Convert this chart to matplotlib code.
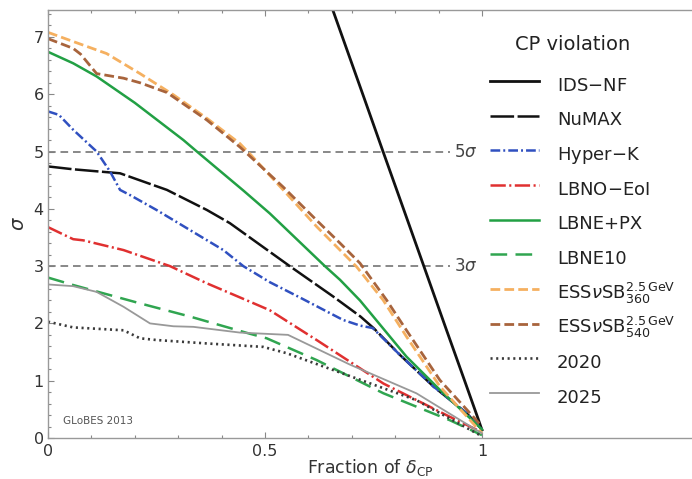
import matplotlib
matplotlib.use('Agg')
import matplotlib.pyplot as plt
from matplotlib.ticker import FixedLocator, MultipleLocator

plt.rcParams['font.family'] = 'DejaVu Sans'
plt.rcParams['mathtext.fontset'] = 'dejavusans'
# dash lengths are given in points, not in units of line width
plt.rcParams['lines.scale_dashes'] = False

# Fraction of delta_CP (x) and CP violation significance sigma (y)
ids_x = [0.645, 0.73, 0.772, 0.82, 0.866, 0.918, 0.96, 0.99, 1.0]
ids_y = [7.71, 5.9, 5.0, 3.98, 3.0, 1.89, 1.0, 0.36, 0.14]

numax_x = [0.0, 0.058, 0.166, 0.274, 0.366, 0.419, 0.511, 0.557, 0.657, 0.72, 0.75, 0.811, 0.888, 0.965, 1.0]
numax_y = [4.74, 4.69, 4.62, 4.33, 3.98, 3.75, 3.25, 3.0, 2.47, 2.12, 1.92, 1.45, 0.9, 0.43, 0.15]

hyperk_x = [0.0, 0.025, 0.058, 0.112, 0.143, 0.166, 0.189, 0.25, 0.327, 0.404, 0.45, 0.511, 0.581, 0.68, 0.72, 0.748,
            0.811, 0.888, 0.965, 1.0]
hyperk_y = [5.7, 5.64, 5.38, 5.0, 4.65, 4.33, 4.24, 3.98, 3.63, 3.28, 3.0, 2.72, 2.45, 2.06, 1.96, 1.92,
            1.45, 0.9, 0.43, 0.15]

lbno_x = [0.0, 0.058, 0.081, 0.174, 0.281, 0.366, 0.465, 0.511, 0.619, 0.773, 0.926, 1.0]
lbno_y = [3.68, 3.47, 3.45, 3.28, 3.0, 2.7, 2.38, 2.23, 1.71, 0.95, 0.37, 0.1]

lbnepx_x = [0.0, 0.058, 0.112, 0.2, 0.312, 0.343, 0.45, 0.511, 0.638, 0.673, 0.719, 0.826, 0.903, 1.0]
lbnepx_y = [6.74, 6.54, 6.31, 5.85, 5.2, 5.0, 4.32, 3.92, 3.0, 2.76, 2.4, 1.42, 0.84, 0.15]

lbne10_x = [0.0, 0.058, 0.212, 0.327, 0.465, 0.504, 0.619, 0.773, 0.926, 1.0]
lbne10_y = [2.8, 2.67, 2.35, 2.12, 1.82, 1.74, 1.36, 0.78, 0.31, 0.05]

ess360_x = [0.0, 0.058, 0.135, 0.212, 0.289, 0.366, 0.442, 0.465, 0.542, 0.619, 0.711, 0.772, 0.826, 0.903, 0.98, 1.0]
ess360_y = [7.08, 6.92, 6.71, 6.36, 5.99, 5.58, 5.14, 4.96, 4.33, 3.69, 2.99, 2.41, 1.77, 0.9, 0.25, 0.08]

ess540_x = [0.0, 0.058, 0.075, 0.112, 0.174, 0.212, 0.274, 0.366, 0.442, 0.465, 0.542, 0.619, 0.673, 0.719, 0.78,
            0.826, 0.903, 0.98, 1.0]
ess540_y = [6.97, 6.8, 6.7, 6.36, 6.28, 6.2, 6.03, 5.55, 5.08, 4.92, 4.38, 3.8, 3.4, 3.05, 2.41,
            1.88, 1.01, 0.37, 0.2]

y2020_x = [0.0, 0.058, 0.174, 0.212, 0.25, 0.366, 0.496, 0.55, 0.696, 0.849, 1.0]
y2020_y = [2.03, 1.93, 1.88, 1.74, 1.71, 1.65, 1.59, 1.48, 1.08, 0.66, 0.03]

y2025_x = [0.0, 0.058, 0.112, 0.174, 0.235, 0.289, 0.335, 0.442, 0.553, 0.696, 0.849, 1.0]
y2025_y = [2.68, 2.65, 2.55, 2.29, 2.0, 1.95, 1.94, 1.84, 1.8, 1.28, 0.78, 0.08]

sigma_levels = [3, 5]
sigma_labels = [r'3$\sigma$', r'5$\sigma$']

fig = plt.figure(figsize=(6.92, 4.79), dpi=100)
ax = fig.add_axes([0.0694, 0.0856, 0.9306, 0.8935])

# reference lines at 3 and 5 sigma
ax.hlines(sigma_levels, 0, 0.926, colors='#7f7f7f', lw=1.3, linestyles=(0, (5.5, 3.5)))
for lev, lab in zip(sigma_levels, sigma_labels):
    ax.text(0.936, lev, lab, fontsize=12, color='#444444', va='center', ha='left')

# experiments
ax.plot(ids_x, ids_y, color='#111111', lw=2.0, label='IDS$-$NF')
ax.plot(numax_x, numax_y, color='#111111', lw=1.8, dashes=(17, 2.5), label='NuMAX')
ax.plot(hyperk_x, hyperk_y, color='#3050c0', lw=1.8, dashes=(7, 2.2, 1.4, 2.2), label='Hyper$-$K')
ax.plot(lbno_x, lbno_y, color='#e03030', lw=1.8, dashes=(11, 2.5, 1.5, 2.5), label='LBNO$-$EoI')
ax.plot(lbnepx_x, lbnepx_y, color='#22a044', lw=1.8, label='LBNE+PX')
ax.plot(lbne10_x, lbne10_y, color='#30a550', lw=1.8, dashes=(12, 6), label='LBNE10')
ax.plot(ess360_x, ess360_y, color='#f5b060', lw=2.0, dashes=(7, 3),
        label=r'ESS$\nu$SB$^{2.5\,\mathrm{GeV}}_{360}$')
ax.plot(ess540_x, ess540_y, color='#a8643c', lw=2.0, dashes=(7, 3),
        label=r'ESS$\nu$SB$^{2.5\,\mathrm{GeV}}_{540}$')
ax.plot(y2020_x, y2020_y, color='#3a3a3a', lw=1.9, dashes=(1.5, 2.6), label='2020')
ax.plot(y2025_x, y2025_y, color='#999999', lw=1.3, label='2025')

ax.text(0.035, 0.3, 'GLoBES 2013', fontsize=7.5, color='#555555', va='center')

ax.set_xlim(0, 1.484)
ax.set_ylim(0, 7.47)

ax.xaxis.set_major_locator(FixedLocator([0, 0.5, 1]))
ax.xaxis.set_minor_locator(FixedLocator([0.1, 0.2, 0.3, 0.4, 0.6, 0.7, 0.8, 0.9]))
ax.set_xticklabels(['0', '0.5', '1'])
ax.yaxis.set_major_locator(MultipleLocator(1))
ax.yaxis.set_minor_locator(MultipleLocator(0.2))

ax.tick_params(which='both', direction='in', top=True, right=False, color='#888888',
               labelcolor='#333333', labelsize=11.5)
ax.tick_params(which='major', length=4.5, width=0.8)
ax.tick_params(which='minor', length=2.5, width=0.8)
ax.tick_params(axis='x', pad=4)
ax.tick_params(axis='y', pad=3)

for side in ['left', 'bottom', 'top']:
    ax.spines[side].set_color('#999999')
    ax.spines[side].set_linewidth(1.0)
ax.spines['right'].set_visible(False)

ax.set_xlabel(r'Fraction of $\delta_{\mathrm{CP}}$', fontsize=12.5, color='#333333')
ax.xaxis.set_label_coords(0.5, -0.044)
ax.set_ylabel(r'$\sigma$', fontsize=14, color='#333333')
ax.yaxis.set_label_coords(-0.031, 0.5)

# legend title drawn separately so the gap to the first entry can be set
fig.text(573 / 692, 1 - 45 / 479, 'CP violation', fontsize=14, color='#222222', ha='center', va='center')
leg = ax.legend(loc='upper left', bbox_to_anchor=(490 / 692, 1 - 71 / 479), bbox_transform=fig.transFigure,
                frameon=False, fontsize=13, handlelength=2.7, handleheight=2.0, handletextpad=1.0,
                labelspacing=0.376, borderpad=0, borderaxespad=0)
for t in leg.get_texts():
    t.set_color('#222222')

fig.savefig('out.png', dpi=100)
